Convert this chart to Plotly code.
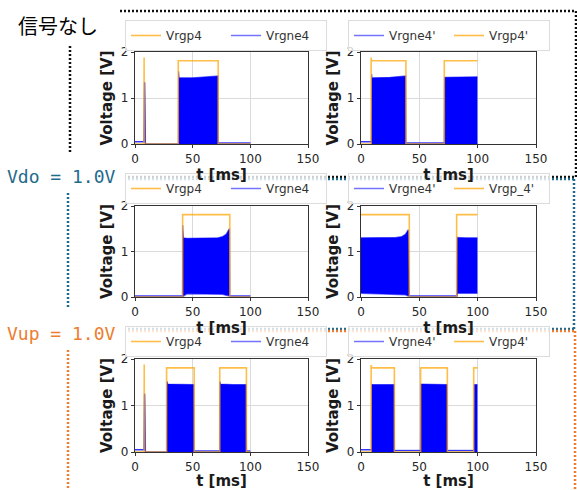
import plotly.graph_objects as go

W, H = 577, 490

# ---------------- data ----------------
# Panel A: 信号なし, Vrgp4 / Vrgne4
a_blue_t = [0, 7.9, 8.3, 8.7, 9.0, 37.6, 37.8, 38.3, 50, 65, 72.0, 72.2, 100]
a_blue_hi = [0.05, 0.05, 1.34, 0.05, 0.0, 0.0, 1.58, 1.44, 1.44, 1.46, 1.48, 0.02, 0.02]
a_blue_lo = [0.05, 0.05, 1.34, 0.05, 0.0, 0.0, 0.0, 0.0, 0.0, 0.0, 0.0, 0.02, 0.02]
a_or_t = [0, 7.8, 7.9, 8.1, 37.5, 37.5, 72.1, 72.1, 100]
a_or_y = [0, 0, 1.88, 0, 0, 1.81, 1.81, 0, 0]

# Panel B: 信号なし, Vrgne4' / Vrgp4'
b_blue_t = [0, 8.9, 9.2, 9.5, 25, 38.3, 38.6, 71.3, 71.6, 85, 99.8]
b_blue_hi = [0.05, 0.05, 1.52, 1.44, 1.45, 1.48, 0.02, 0.02, 1.45, 1.45, 1.46]
b_blue_lo = [0.05, 0.05, 0.0, 0.0, 0.0, 0.0, 0.02, 0.02, 0.0, 0.0, 0.0]
b_or_t = [0, 8.6, 8.7, 9.0, 38.5, 38.5, 71.4, 71.4, 99.8]
b_or_y = [0, 0, 1.88, 1.81, 1.81, 0, 0, 1.81, 1.81]

# Panel C: Vdo = 1.0V, Vrgp4 / Vrgne4
c_blue_t = [0, 41.2, 41.4, 42, 45, 60, 72, 76, 79, 81.5, 82.0, 82.3, 100]
c_blue_hi = [0.02, 0.02, 1.58, 1.30, 1.29, 1.29, 1.30, 1.33, 1.38, 1.49, 1.49, 0.02, 0.02]
c_blue_lo = [0.02, 0.02, 0.0, 0.02, 0.07, 0.07, 0.07, 0.06, 0.04, 0.02, 0.02, 0.02, 0.02]
c_or_t = [0, 41.3, 41.3, 82.2, 82.2, 100]
c_or_y = [0, 0, 1.81, 1.81, 0, 0]

# Panel D: Vdo = 1.0V, Vrgne4' / Vrgp_4'
d_blue_t = [0, 20, 30, 35, 38, 40.5, 41.2, 41.5, 82.2, 82.5, 90, 99.8]
d_blue_hi = [1.30, 1.30, 1.31, 1.33, 1.38, 1.48, 0.02, 0.02, 0.02, 1.31, 1.30, 1.30]
d_blue_lo = [0.08, 0.07, 0.07, 0.06, 0.05, 0.02, 0.02, 0.02, 0.02, 0.08, 0.08, 0.08]
d_or_t = [0, 41.4, 41.4, 82.0, 82.0, 99.8]
d_or_y = [1.81, 1.81, 0, 0, 1.81, 1.81]

# Panel E: Vup = 1.0V, Vrgp4 / Vrgne4
e_blue_t = [0, 7.9, 8.3, 8.7, 9.0, 27.6, 27.8, 28.5, 40, 51.0, 51.3, 73.4, 73.6, 74.3, 85, 96.4, 96.7, 100]
e_blue_hi = [0.05, 0.05, 1.25, 0.05, 0.0, 0.0, 1.52, 1.46, 1.45, 1.45, 0.02, 0.02, 1.52, 1.46, 1.45, 1.45, 0.02, 0.02]
e_blue_lo = [0.05, 0.05, 1.25, 0.05, 0.0, 0.0, 0.0, 0.0, 0.0, 0.0, 0.02, 0.02, 0.0, 0.0, 0.0, 0.0, 0.02, 0.02]
e_or_t = [0, 7.9, 8.0, 8.2, 27.4, 27.4, 51.3, 51.3, 73.5, 73.5, 96.6, 96.6, 100]
e_or_y = [0, 0, 1.88, 0, 0, 1.81, 1.81, 0, 0, 1.81, 1.81, 0, 0]

# Panel F: Vup = 1.0V, Vrgne4' / Vrgp4'
f_blue_t = [0, 9.0, 9.2, 9.5, 20, 28.4, 28.7, 51.0, 51.3, 60, 73.8, 74.1, 96.8, 97.1, 99.8]
f_blue_hi = [0.05, 0.05, 1.46, 1.45, 1.45, 1.45, 0.03, 0.03, 1.46, 1.45, 1.45, 0.03, 0.03, 1.45, 1.45]
f_blue_lo = [0.05, 0.05, 0.0, 0.0, 0.0, 0.0, 0.03, 0.03, 0.0, 0.0, 0.0, 0.03, 0.03, 0.0, 0.0]
f_or_t = [0, 8.6, 8.7, 9.0, 28.6, 28.6, 51.1, 51.1, 74.0, 74.0, 96.6, 96.6, 99.8]
f_or_y = [0, 0, 1.87, 1.81, 1.81, 0, 0, 1.81, 1.81, 0, 0, 1.81, 1.81]

x_ticks = [0, 50, 100, 150]
y_ticks = [0, 1, 2]

row_labels = ["信号なし", "Vdo = 1.0V", "Vup = 1.0V"]

panels = [
    # (blue t, hi, lo, orange t, y, blue name, orange name, blue first in legend)
    (a_blue_t, a_blue_hi, a_blue_lo, a_or_t, a_or_y, "Vrgne4", "Vrgp4", False),
    (b_blue_t, b_blue_hi, b_blue_lo, b_or_t, b_or_y, "Vrgne4'", "Vrgp4'", True),
    (c_blue_t, c_blue_hi, c_blue_lo, c_or_t, c_or_y, "Vrgne4", "Vrgp4", False),
    (d_blue_t, d_blue_hi, d_blue_lo, d_or_t, d_or_y, "Vrgne4'", "Vrgp_4'", True),
    (e_blue_t, e_blue_hi, e_blue_lo, e_or_t, e_or_y, "Vrgne4", "Vrgp4", False),
    (f_blue_t, f_blue_hi, f_blue_lo, f_or_t, f_or_y, "Vrgne4'", "Vrgp4'", True),
]

# ---------------- layout helpers ----------------
def px(x):
    return x / W

def py(y):
    return 1 - y / H

col_px = [(135, 308), (361, 536)]
row_px = [(52, 144), (206, 297), (359, 452)]
legend_top = [20, 173, 326]
legend_left = [125, 348]

BLUE_LINE = "rgba(0,0,255,0.55)"
BLUE_FILL = "#0000ff"
ORANGE = "rgba(255,165,0,0.72)"

fig = go.Figure()
layout = dict(
    width=W, height=H, autosize=False,
    margin=dict(l=0, r=0, t=0, b=0),
    paper_bgcolor="white", plot_bgcolor="white",
    font=dict(family="DejaVu Sans", color="#262626"),
)

for i, (bt, bhi, blo, ot, oy, bname, oname, blue_first) in enumerate(panels):
    r, c = divmod(i, 2)
    k = i + 1
    xa = "x" if k == 1 else f"x{k}"
    ya = "y" if k == 1 else f"y{k}"
    lg = "legend" if k == 1 else f"legend{k}"

    # blue lower envelope (legend entry, line only)
    fig.add_trace(go.Scatter(
        x=bt, y=blo, mode="lines", name=bname,
        line=dict(color=BLUE_LINE, width=1.5),
        xaxis=xa, yaxis=ya, legend=lg,
        legendrank=1 if blue_first else 2,
    ))
    # blue upper envelope, filled down to lower envelope
    fig.add_trace(go.Scatter(
        x=bt, y=bhi, mode="lines", showlegend=False,
        line=dict(color=BLUE_LINE, width=1.2),
        fill="tonexty", fillcolor=BLUE_FILL,
        xaxis=xa, yaxis=ya, legend=lg,
    ))
    fig.add_trace(go.Scatter(
        x=ot, y=oy, mode="lines", name=oname,
        line=dict(color=ORANGE, width=1.6),
        xaxis=xa, yaxis=ya, legend=lg,
        legendrank=2 if blue_first else 1,
    ))

    x0, x1 = col_px[c]
    y0, y1 = row_px[r]
    axis_common = dict(
        showline=True, linecolor="#333333", linewidth=1.4, mirror=True,
        showgrid=True, gridcolor="#dadada", gridwidth=1, zeroline=False,
        ticks="outside", ticklen=3, tickcolor="#333333", tickwidth=1,
        tickfont=dict(family="DejaVu Sans", size=12, color="#262626"),
        automargin=False,
    )
    layout["xaxis" if k == 1 else f"xaxis{k}"] = dict(
        axis_common, domain=[px(x0), px(x1)], anchor=ya,
        range=[0, 150], tickmode="array", tickvals=x_ticks,
        title=dict(text="<b>t [ms]</b>", standoff=2,
                   font=dict(family="DejaVu Sans", size=15, color="#1a1a1a")),
    )
    layout["yaxis" if k == 1 else f"yaxis{k}"] = dict(
        axis_common, domain=[py(y1), py(y0)], anchor=xa,
        range=[0, 2], tickmode="array", tickvals=y_ticks,
        title=dict(text="<b>Voltage [V]</b>", standoff=4,
                   font=dict(family="DejaVu Sans", size=15, color="#1a1a1a")),
    )
    layout[lg] = dict(
        x=px(legend_left[c]), y=py(legend_top[r]), xanchor="left", yanchor="top",
        orientation="h", bgcolor="rgba(255,255,255,0.8)",
        bordercolor="#dcdcdc", borderwidth=1,
        font=dict(family="DejaVu Sans", size=12, color="#333333"),
        entrywidth=55, entrywidthmode="pixels", itemwidth=30,
        traceorder="normal",
    )

# dotted group boxes
BLACK = "#111111"
TEAL = "#1f6b8c"
ORG = "#ed7d31"
segments = [
    (BLACK, 120, 11, 576, 11), (BLACK, 576, 11, 576, 177),
    (BLACK, 128, 177, 576, 177), (BLACK, 70, 46, 70, 153),
    (TEAL, 128, 179, 574, 179), (TEAL, 574, 179, 574, 329),
    (TEAL, 128, 329, 574, 329), (TEAL, 68, 193, 68, 308),
    (ORG, 128, 331, 576, 331), (ORG, 575, 331, 575, 490),
    (ORG, 68, 350, 68, 490),
]
shapes = []
for col, xa_, ya_, xb_, yb_ in segments:
    shapes.append(dict(type="line", xref="paper", yref="paper",
                       x0=px(xa_), y0=py(ya_), x1=px(xb_), y1=py(yb_),
                       line=dict(color=col, width=2.5, dash="2px,2px")))
layout["shapes"] = shapes

layout["annotations"] = [
    dict(text=row_labels[0], x=px(58), y=py(26), xref="paper", yref="paper",
         showarrow=False, xanchor="center", yanchor="middle",
         font=dict(family="Noto Sans CJK JP", size=20, color="#000000")),
    dict(text=row_labels[1], x=px(61), y=py(176), xref="paper", yref="paper",
         showarrow=False, xanchor="center", yanchor="middle",
         font=dict(family="DejaVu Sans Mono", size=18, color=TEAL)),
    dict(text=row_labels[2], x=px(61), y=py(333), xref="paper", yref="paper",
         showarrow=False, xanchor="center", yanchor="middle",
         font=dict(family="DejaVu Sans Mono", size=18, color=ORG)),
]

fig.update_layout(**layout)
fig.write_html("out.html")
